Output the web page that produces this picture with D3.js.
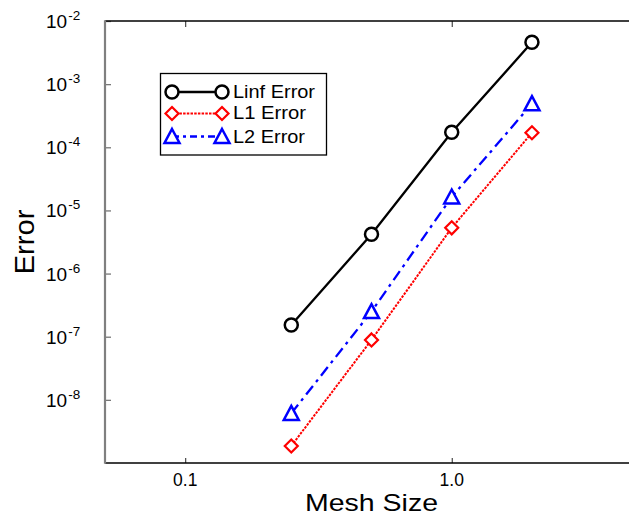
<!DOCTYPE html>
<html>
<head>
<meta charset="utf-8">
<script src="https://cdn.jsdelivr.net/npm/d3@7"></script>
<style>
  html, body { margin: 0; padding: 0; background: #fff; }
  text { font-family: "Liberation Sans", Arial, Helvetica, sans-serif; }
</style>
</head>
<body>
<svg id="chart" width="629" height="518"></svg>
<script>
// ---- data ----
const meshSizes = [0.25, 0.5, 1, 2];
const linfError = [1.53e-7, 4.2e-6, 1.73e-4, 4.6e-3];
const l1Error   = [1.86e-9, 8.9e-8, 5.3e-6, 1.7e-4];
const l2Error   = [6.1e-9, 2.5e-7, 1.63e-5, 4.9e-4];
const seriesNames = ["Linf Error", "L1 Error", "L2 Error"];
const xTickValues = [0.1, 1];
const xTickLabels = ["0.1", "1.0"];
const yTickExponents = [-2, -3, -4, -5, -6, -7, -8];

(function () {
// ---- layout ----
const svg = d3.select("#chart");
const pLeft = 105, pRight = 638, pTop = 21, pBottom = 463;
const x = d3.scaleLog().domain([0.05, 5]).range([pLeft, pRight]);
const y = d3.scaleLog().domain([1e-9, 1e-2]).range([pBottom, pTop]);

const series = [
  { name: seriesNames[0], values: linfError, color: "#000000", dash: null, legendDash: null, marker: "circle" },
  { name: seriesNames[1], values: l1Error,   color: "#ff0000", dash: "2.5,1.2", legendDash: "2.5,1.2", marker: "diamond" },
  { name: seriesNames[2], values: l2Error,   color: "#0000ff", dash: "11,5,3,5", legendDash: "7,4,3,4", marker: "triangle" }
];

function drawMarker(g, type, color) {
  if (type === "circle") {
    g.append("circle").attr("r", 6.5).attr("fill", "#fff").attr("stroke", color).attr("stroke-width", 2.5);
  } else if (type === "diamond") {
    g.append("path").attr("d", "M0,-6.5L6.5,0L0,6.5L-6.5,0Z").attr("fill", "#fff").attr("stroke", color).attr("stroke-width", 2.2);
  } else {
    g.append("path").attr("d", "M0,-7.5L7.5,6.5L-7.5,6.5Z").attr("fill", "#fff").attr("stroke", color).attr("stroke-width", 2.5).attr("stroke-linejoin", "miter");
  }
}

// ---- axes (ticks via d3 axes) ----
const xAxisBottom = d3.axisBottom(x).tickValues(xTickValues).tickSize(-5).tickFormat("");
const xAxisTop = d3.axisTop(x).tickValues(xTickValues).tickSize(-6).tickFormat("");
const yAxis = d3.axisLeft(y).tickValues(yTickExponents.map(e => Math.pow(10, e))).tickSize(-6).tickFormat("");

const gxb = svg.append("g").attr("transform", `translate(0,${pBottom})`).call(xAxisBottom);
const gxt = svg.append("g").attr("transform", `translate(0,${pTop})`).call(xAxisTop);
const gy = svg.append("g").attr("transform", `translate(${pLeft},0)`).call(yAxis);
[gxb, gxt, gy].forEach(g => {
  g.select(".domain").remove();
  g.selectAll(".tick line").attr("stroke", "#222").attr("stroke-width", 1);
});
gy.selectAll(".tick line").attr("stroke", "#777").attr("stroke-width", 1.3);

// spines
svg.append("line").attr("x1", pLeft).attr("x2", pRight).attr("y1", pTop).attr("y2", pTop)
  .attr("stroke", "#000").attr("stroke-width", 1.5);
svg.append("line").attr("x1", pLeft).attr("x2", pRight).attr("y1", pBottom).attr("y2", pBottom)
  .attr("stroke", "#000").attr("stroke-width", 1.6);
svg.append("line").attr("x1", pLeft).attr("x2", pLeft).attr("y1", pTop - 0.75).attr("y2", pBottom + 0.8)
  .attr("stroke", "#808080").attr("stroke-width", 2.2);

// x tick labels
xTickValues.forEach((v, i) => {
  svg.append("text").attr("x", x(v)).attr("y", pBottom + 23)
    .attr("text-anchor", "middle").attr("font-size", 17.5).attr("fill", "#000")
    .text(xTickLabels[i]);
});

// y tick labels 10^e
yTickExponents.forEach(e => {
  const yy = y(Math.pow(10, e));
  const t = svg.append("text").attr("x", 46).attr("y", yy + 7)
    .attr("font-size", 19).attr("fill", "#000");
  t.append("tspan").text("10");
  t.append("tspan").attr("font-size", 13.5).attr("dy", -8).attr("dx", 1).text("-" + Math.abs(e));
});

// axis titles
svg.append("text").attr("x", (pLeft + pRight) / 2).attr("y", 511)
  .attr("text-anchor", "middle").attr("font-size", 24)
  .attr("textLength", 133).attr("lengthAdjust", "spacingAndGlyphs")
  .text("Mesh Size");
svg.append("text")
  .attr("transform", `translate(34,${(pTop + pBottom) / 2}) rotate(-90)`)
  .attr("text-anchor", "middle").attr("font-size", 27)
  .attr("textLength", 65).attr("lengthAdjust", "spacingAndGlyphs")
  .text("Error");

// ---- series ----
const line = d3.line().x(d => x(d[0])).y(d => y(d[1]));
series.forEach(s => {
  const pts = meshSizes.map((m, i) => [m, s.values[i]]);
  svg.append("path").attr("d", line(pts)).attr("fill", "none")
    .attr("stroke", s.color).attr("stroke-width", s.marker === "diamond" ? 2 : 2.3)
    .attr("stroke-dasharray", s.dash);
  pts.forEach(p => {
    const g = svg.append("g").attr("transform", `translate(${x(p[0])},${y(p[1])})`);
    drawMarker(g, s.marker, s.color);
  });
});

// ---- legend ----
const legend = svg.append("g");
legend.append("rect").attr("x", 160.5).attr("y", 73.5).attr("width", 166).attr("height", 81.5)
  .attr("fill", "#fff").attr("stroke", "#000").attr("stroke-width", 1.3);
const rowY = [92, 113.5, 136.5];
const textLens = [82, 73, 72];
series.forEach((s, i) => {
  const ry = rowY[i];
  legend.append("line").attr("x1", 172).attr("x2", 222).attr("y1", ry).attr("y2", ry)
    .attr("stroke", s.color).attr("stroke-width", s.marker === "diamond" ? 2 : 2.3)
    .attr("stroke-dasharray", s.legendDash);
  [172, 222].forEach(mx => {
    const g = legend.append("g").attr("transform", `translate(${mx},${ry})`);
    drawMarker(g, s.marker, s.color);
  });
  legend.append("text").attr("x", 233).attr("y", ry + 5.5 + (i === 2 ? 1 : 0))
    .attr("font-size", 18.5).attr("fill", "#000")
    .attr("textLength", textLens[i]).attr("lengthAdjust", "spacingAndGlyphs")
    .text(s.name);
});
})();
</script>
</body>
</html>
